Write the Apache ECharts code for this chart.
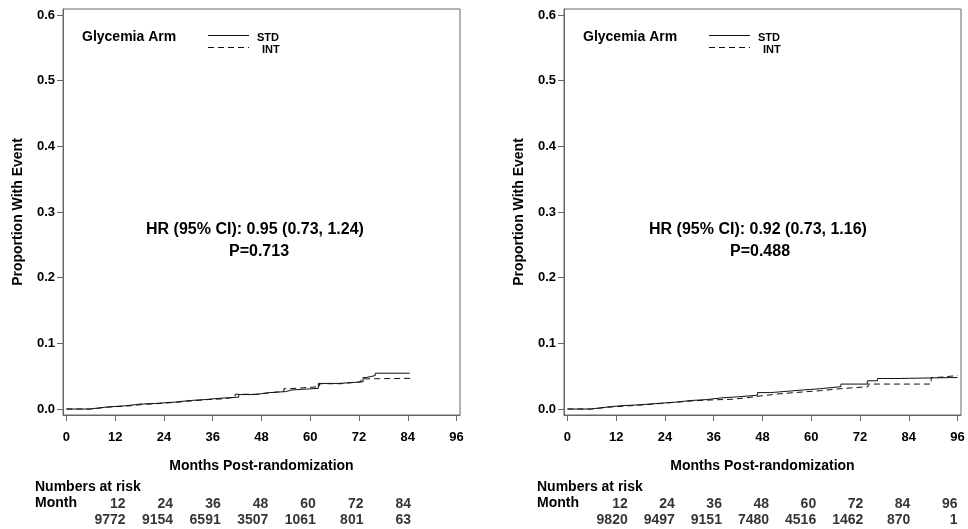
<!DOCTYPE html>
<html>
<head>
<meta charset="utf-8">
<script src="https://cdn.jsdelivr.net/npm/echarts@6/dist/echarts.min.js"></script>
<style>html,body{margin:0;padding:0;background:#fff}#c{width:968px;height:529px}</style>
</head>
<body>
<div id="c"></div>
<script>
// ---- Data ----
const xTicks = [0, 12, 24, 36, 48, 60, 72, 84, 96];
const yTicks = [0, 0.1, 0.2, 0.3, 0.4, 0.5, 0.6];

const leftSTD = [[0,0],[5.7,0.003],[9.8,0.005],[14.7,0.0075],[18,0.0085],[22,0.0105],[26.5,0.013],[30.5,0.0145],[34.3,0.0165],[38,0.018],[42.4,0.022],[46.5,0.025],[50,0.0265],[53.9,0.029],[55.5,0.0315],[62,0.039],[67,0.0415],[73,0.048],[73.8,0.051],[76,0.0545],[84.5,0.0545]];
const leftINT = [[0,0],[6,0.003],[10.5,0.0048],[15.5,0.007],[19,0.0085],[23,0.0105],[27.5,0.0125],[31,0.0145],[35,0.0155],[38.5,0.018],[41.5,0.0225],[46.5,0.025],[50.5,0.027],[53.5,0.031],[55,0.034],[62.3,0.0385],[67.5,0.0415],[72.5,0.046],[74,0.0467],[84.8,0.0467]];
const rightSTD = [[0,0],[5.7,0.003],[9.8,0.005],[13.1,0.0065],[18,0.0085],[22.1,0.0105],[26.7,0.013],[30.5,0.0145],[34.5,0.017],[38,0.0185],[41.8,0.021],[46.8,0.025],[50,0.027],[54.1,0.029],[58,0.031],[62.3,0.034],[67.3,0.038],[73.8,0.043],[76.3,0.0465],[81.6,0.0475],[90.7,0.048],[96,0.048]];
const rightINT = [[0,0],[6,0.003],[10.5,0.0048],[15,0.0065],[19,0.0085],[23,0.0105],[27,0.0125],[31,0.014],[36.1,0.0147],[40,0.017],[44,0.02],[47.6,0.023],[52,0.025],[55.8,0.028],[62.3,0.031],[67.3,0.034],[74,0.038],[89.5,0.048],[91,0.051],[96,0.051]];

const legendTitle = 'Glycemia Arm';
const legendNames = ['STD', 'INT'];
const leftHR = 'HR (95% CI): 0.95 (0.73, 1.24)';
const leftP = 'P=0.713';
const rightHR = 'HR (95% CI): 0.92 (0.73, 1.16)';
const rightP = 'P=0.488';

const leftRiskMonths = [12, 24, 36, 48, 60, 72, 84];
const leftRiskN = [9772, 9154, 6591, 3507, 1061, 801, 63];
const rightRiskMonths = [12, 24, 36, 48, 60, 72, 84, 96];
const rightRiskN = [9820, 9497, 9151, 7480, 4516, 1462, 870, 1];

// ---- Styles ----
const FONT = "'Liberation Sans', Arial, sans-serif";
const AX = '#666';
const LINE = '#111';
const DASH = [6, 4];
const bold = (s) => ({ fontFamily: FONT, fontWeight: 'bold', fontSize: s, color: '#000' });

function xAxisCfg(gi) {
  return {
    gridIndex: gi, type: 'value', min: -0.85, max: 96.85,
    name: 'Months Post-randomization', nameLocation: 'middle', nameGap: 44,
    nameTextStyle: bold(14),
    axisLine: { show: true, onZero: false, lineStyle: { color: AX } },
    axisTick: { show: true, length: 6, customValues: xTicks, lineStyle: { color: AX } },
    axisLabel: { customValues: xTicks, margin: 16, ...bold(13) },
    splitLine: { show: false }
  };
}
function yAxisCfg(gi) {
  return {
    gridIndex: gi, type: 'value', min: -0.0091, max: 0.6091,
    name: 'Proportion With Event', nameLocation: 'middle', nameGap: 38,
    nameTextStyle: bold(14),
    axisLine: { show: true, onZero: false, lineStyle: { color: AX } },
    axisTick: { show: true, length: 6, customValues: yTicks, lineStyle: { color: AX } },
    axisLabel: { customValues: yTicks, margin: 8, formatter: v => v.toFixed(1), ...bold(13) },
    splitLine: { show: false }
  };
}
function riskX(gi) {
  return { gridIndex: gi, type: 'value', min: 0, max: 96, show: false };
}
function riskY(gi) {
  return { gridIndex: gi, type: 'value', min: 0, max: 2, inverse: true, show: false };
}
function curve(name, data, xi, dashed) {
  return {
    name, type: 'line', step: 'end', data, xAxisIndex: xi, yAxisIndex: xi,
    symbol: 'none', silent: true, animation: false,
    lineStyle: { color: LINE, width: 1, type: dashed ? DASH : 'solid' },
    itemStyle: { color: LINE }
  };
}
function risk(months, ns, xi) {
  const d = [];
  months.forEach(m => d.push([m, 0.5, String(m)]));
  months.forEach((m, i) => d.push([m, 1.5, String(ns[i])]));
  return {
    type: 'scatter', xAxisIndex: xi, yAxisIndex: xi, data: d, symbolSize: 0, silent: true, animation: false,
    label: { show: true, position: 'inside', align: 'right', verticalAlign: 'middle', formatter: p => p.value[2], ...bold(14) }
  };
}
function txt(x, y, text, size, align) {
  return { type: 'text', x, y, silent: true, style: { text, fill: '#000', font: `bold ${size}px ${FONT}`, textAlign: align || 'left', textVerticalAlign: 'middle' } };
}
function seg(x1, x2, y, dashed) {
  return { type: 'line', silent: true, shape: { x1, y1: y, x2, y2: y }, style: { stroke: LINE, lineWidth: 1, lineDash: dashed ? DASH : null } };
}
function legendBlock(x0) {
  return [
    txt(x0, 37, legendTitle, 14),
    seg(x0 + 126, x0 + 167, 35.5, false),
    seg(x0 + 126, x0 + 167, 47.5, true),
    txt(x0 + 175, 37.5, legendNames[0], 11),
    txt(x0 + 180, 49.5, legendNames[1], 11)
  ];
}

const chart = echarts.init(document.getElementById('c'), null, { renderer: 'canvas' });
chart.setOption({
  animation: false,
  backgroundColor: '#fff',
  grid: [
    { left: 63, top: 9, width: 397, height: 406, show: true, borderColor: AX, borderWidth: 1, backgroundColor: 'transparent' },
    { left: 564, top: 9, width: 397, height: 406, show: true, borderColor: AX, borderWidth: 1, backgroundColor: 'transparent' },
    { left: 78, top: 496, width: 380.6, height: 32 },
    { left: 580.6, top: 496, width: 376.9, height: 32 }
  ],
  xAxis: [xAxisCfg(0), xAxisCfg(1), riskX(2), riskX(3)],
  yAxis: [yAxisCfg(0), yAxisCfg(1), riskY(2), riskY(3)],
  series: [
    curve('STD', leftSTD, 0, false),
    curve('INT', leftINT, 0, true),
    curve('STD', rightSTD, 1, false),
    curve('INT', rightINT, 1, true),
    risk(leftRiskMonths, leftRiskN, 2),
    risk(rightRiskMonths, rightRiskN, 3)
  ],
  graphic: [
    ...legendBlock(82),
    ...legendBlock(583),
    txt(255, 230, leftHR, 16, 'center'),
    txt(259, 252, leftP, 16, 'center'),
    txt(758, 230, rightHR, 16, 'center'),
    txt(760, 252, rightP, 16, 'center'),
    txt(35, 487, 'Numbers at risk', 14),
    txt(35, 503, 'Month', 14),
    txt(537, 487, 'Numbers at risk', 14),
    txt(537, 503, 'Month', 14)
  ]
});
</script>
</body>
</html>
